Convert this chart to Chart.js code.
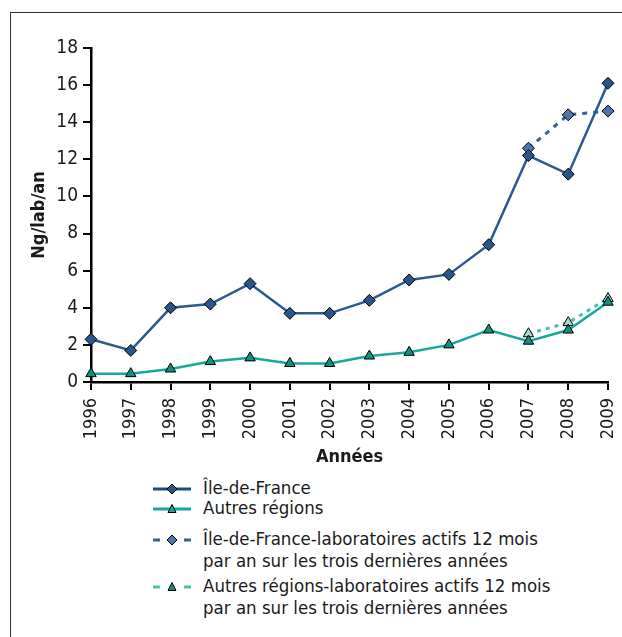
<!DOCTYPE html>
<html>
<head>
<meta charset="utf-8">
<script src="https://cdn.jsdelivr.net/npm/chart.js@4"></script>
<style>
  html, body { margin: 0; padding: 0; background: #fff; }
  body { width: 622px; height: 637px; position: relative; overflow: hidden;
         font-family: "Liberation Sans Narrow", "DejaVu Sans Condensed", sans-serif; color: #1a1a1a; }
  #frame { position: absolute; left: 10px; top: 12px; width: 700px; height: 700px;
           border-left: 1.5px solid #333; border-top: 1.5px solid #333; }
  #wrap { position: absolute; left: 0; top: 0; width: 622px; height: 470px; }
  #legend { position: absolute; left: 150px; top: 477px; font-size: 18.5px; line-height: 22px; }
  .item { position: relative; padding-left: 53px; }
  .item svg { position: absolute; left: 0; top: 2px; }
</style>
</head>
<body>
<div id="frame"></div>
<div id="wrap"><canvas id="chart" width="622" height="470"></canvas></div>
<div id="legend"></div>
<script>
// values
const years = ['1996','1997','1998','1999','2000','2001','2002','2003','2004','2005','2006','2007','2008','2009'];
const ileDeFrance = [2.3, 1.7, 4.0, 4.2, 5.3, 3.7, 3.7, 4.4, 5.5, 5.8, 7.4, 12.2, 11.2, 16.1];
const autresRegions = [0.45, 0.45, 0.7, 1.1, 1.3, 1.0, 1.0, 1.4, 1.6, 2.0, 2.8, 2.2, 2.8, 4.3];
const ileDeFrance12 = [null, null, null, null, null, null, null, null, null, null, null, 12.6, 14.4, 14.6];
const autresRegions12 = [null, null, null, null, null, null, null, null, null, null, null, 2.6, 3.2, 4.5];
const seriesNames = [
  'Île-de-France',
  'Autres régions',
  'Île-de-France-laboratoires actifs 12 mois\npar an sur les trois dernières années',
  'Autres régions-laboratoires actifs 12 mois\npar an sur les trois dernières années'
];

const FONT = '"Liberation Sans Narrow", "DejaVu Sans Condensed", sans-serif';

const data = {
  labels: years,
  datasets: [
    {
      label: seriesNames[0],
      data: ileDeFrance,
      borderColor: '#2d5a8e',
      borderWidth: 2.5,
      pointStyle: 'rectRot',
      pointRadius: 6,
      pointBackgroundColor: '#2a5589',
      pointBorderColor: '#000',
      pointBorderWidth: 1
    },
    {
      label: seriesNames[1],
      data: autresRegions,
      borderColor: '#16a898',
      borderWidth: 2.5,
      pointStyle: 'triangle',
      pointRadius: 6,
      pointBackgroundColor: '#11907f',
      pointBorderColor: '#000',
      pointBorderWidth: 1
    },
    {
      label: seriesNames[2],
      data: ileDeFrance12,
      borderColor: '#34619a',
      borderWidth: 3,
      borderDash: [5, 6],
      pointStyle: 'rectRot',
      pointRadius: 6,
      pointBackgroundColor: '#5174a8',
      pointBorderColor: '#000',
      pointBorderWidth: 1
    },
    {
      label: seriesNames[3],
      data: autresRegions12,
      borderColor: '#4dbdab',
      borderWidth: 3,
      borderDash: [4, 5],
      pointStyle: 'triangle',
      pointRadius: 6,
      pointBackgroundColor: '#a9d9cd',
      pointBorderColor: '#000',
      pointBorderWidth: 1
    }
  ]
};

const config = {
  type: 'line',
  data: data,
  options: {
    responsive: false,
    animation: false,
    layout: { padding: { left: 28, right: 14, top: 48, bottom: 0 } },
    plugins: {
      legend: { display: false },
      tooltip: { enabled: false }
    },
    scales: {
      x: {
        offset: false,
        grid: { drawOnChartArea: false, color: '#000', lineWidth: 2, tickLength: 8, tickWidth: 2 },
        border: { display: true, color: '#000', width: 2.5 },
        ticks: { color: '#1a1a1a', font: { family: FONT, size: 18 }, minRotation: 90, maxRotation: 90, padding: 8, autoSkip: false },
        title: { display: true, text: 'Années', color: '#1a1a1a', font: { family: FONT, size: 18, weight: 'bold' }, padding: { top: 4, bottom: 2 } },
        afterFit: function(scale) {
          scale.height = 88;
          scale.paddingLeft = 0;   // no extra room for the rotated end labels
          scale.paddingRight = 0;
        }
      },
      y: {
        min: 0,
        max: 18,
        grid: { drawOnChartArea: false, color: '#000', lineWidth: 2, tickLength: 8, tickWidth: 2 },
        border: { display: true, color: '#000', width: 2.5 },
        ticks: { stepSize: 2, color: '#1a1a1a', font: { family: FONT, size: 19 }, padding: 5 },
        title: { display: true, text: 'Ng/lab/an', color: '#1a1a1a', font: { family: FONT, size: 18, weight: 'bold' }, padding: { top: 1, bottom: 0 } },
        afterFit: function(scale) { scale.width = 63; }
      }
    }
  }
};

const myChart = new Chart(document.getElementById('chart'), config);

// HTML legend built from the datasets
const legendBox = document.getElementById('legend');
const gaps = [0, -2, 9, 3];
data.datasets.forEach(function(ds, i) {
  const div = document.createElement('div');
  div.className = 'item';
  div.style.marginTop = gaps[i] + 'px';
  const dashed = !!ds.borderDash;
  const lineColor = dashed ? ds.borderColor : (i === 0 ? '#1b4a82' : '#16a898');
  let svg = '<svg width="44" height="20" viewBox="0 0 44 20">';
  if (dashed) {
    svg += '<line x1="3" y1="10" x2="10" y2="10" stroke="' + lineColor + '" stroke-width="3"/>';
    svg += '<line x1="34" y1="10" x2="41" y2="10" stroke="' + lineColor + '" stroke-width="3"/>';
  } else {
    svg += '<line x1="3" y1="10" x2="41" y2="10" stroke="' + lineColor + '" stroke-width="3"/>';
  }
  const fill = i === 3 ? '#1a8f80' : (i === 1 ? '#16a898' : ds.pointBackgroundColor);
  if (ds.pointStyle === 'rectRot') {
    svg += '<polygon points="22,5 27,10 22,15 17,10" fill="' + fill + '" stroke="#000" stroke-width="1"/>';
  } else {
    svg += '<polygon points="22,5.5 26,13.5 18,13.5" fill="' + fill + '" stroke="#000" stroke-width="1"/>';
  }
  svg += '</svg>';
  div.innerHTML = svg + ds.label.replace('\n', '<br>');
  legendBox.appendChild(div);
});
</script>
</body>
</html>
